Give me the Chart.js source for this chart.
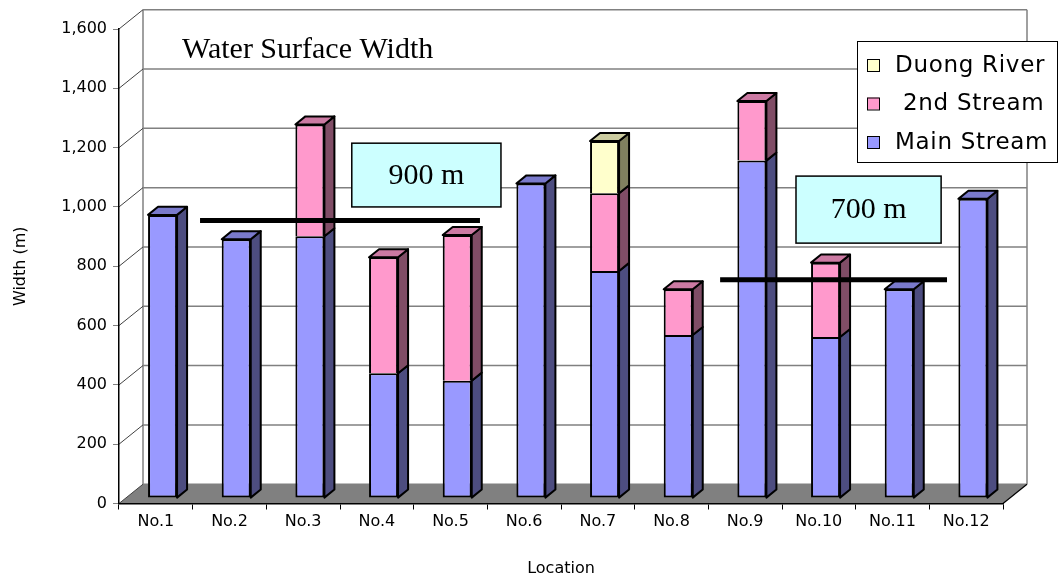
<!DOCTYPE html>
<html>
<head>
<meta charset="utf-8">
<title>Water Surface Width</title>
<script src="https://cdn.jsdelivr.net/npm/chart.js@4.4.1/dist/chart.umd.min.js"></script>
<style>
  html, body { margin: 0; padding: 0; background: #ffffff; }
  canvas { display: block; }
</style>
</head>
<body>
<canvas id="chart" width="1060" height="582"></canvas>
<script>
// ---- data -------------------------------------------------------------
const locations = ['No.1', 'No.2', 'No.3', 'No.4', 'No.5', 'No.6',
                   'No.7', 'No.8', 'No.9', 'No.10', 'No.11', 'No.12'];
const mainStream   = [955, 873, 883, 421, 396, 1061, 766, 550, 1138, 543, 704, 1009];
const secondStream = [null, null, 377, 391, 491, null, 262, 154, 201, 251, null, null];
const duongRiver   = [null, null, null, null, null, null, 176, null, null, null, null, null];
const seriesNames  = ['Main Stream', ' 2nd Stream', 'Duong River'];
const yTickValues  = [0, 200, 400, 600, 800, 1000, 1200, 1400, 1600];
const referenceWidths = [900, 700];
const referenceLabels = ['900 m', '700 m'];

// ---- look -------------------------------------------------------------
const SANS  = '"DejaVu Sans", sans-serif';
const SERIF = '"Liberation Serif", "Times New Roman", serif';
const FRONT = ['#9999FF', '#FF99CC', '#FFFFCC'];
const SIDE  = ['#4D4D80', '#804D66', '#80805F'];
const TOP   = ['#7A7ACC', '#CC7AA3', '#CCCCA0'];

// depth of the 3-D box and where the columns sit inside it
const DEPTH = { dx: 24, dy: 19.3 };
const BAR_FRONT = 0.28;   // fraction of depth at the column's front face
const BAR_DEPTH = 0.417;  // fraction of depth taken by a column

// reference lines: [from, to] in category units, drawn near the back wall
const refSpans = [[0.6, 4.4], [7.66, 10.74]];
const REF_DEPTH = 0.84;
// label boxes: [left, right] in category units, [top, bottom] in axis units
const refBoxes = [
  { x: [2.66, 4.685], v: [1215, 1000] },
  { x: [8.69, 10.66], v: [1104, 878] }
];

function seg(ctx, x1, y1, x2, y2) {
  ctx.beginPath(); ctx.moveTo(x1, y1); ctx.lineTo(x2, y2); ctx.stroke();
}
function quad(ctx, pts, fill) {
  ctx.beginPath();
  ctx.moveTo(pts[0][0], pts[0][1]);
  for (let i = 1; i < pts.length; i++) ctx.lineTo(pts[i][0], pts[i][1]);
  ctx.closePath();
  if (fill) { ctx.fillStyle = fill; ctx.fill(); }
  ctx.stroke();
}

const box3d = {
  id: 'box3d',
  beforeDraw(chart) {
    const { ctx, chartArea: a, scales: { y } } = chart;
    const dx = DEPTH.dx, dy = DEPTH.dy;
    ctx.save();
    // floor
    ctx.fillStyle = '#808080';
    ctx.beginPath();
    ctx.moveTo(a.left, a.bottom);
    ctx.lineTo(a.right, a.bottom);
    ctx.lineTo(a.right + dx, a.bottom - dy);
    ctx.lineTo(a.left + dx, a.bottom - dy);
    ctx.closePath();
    ctx.fill();
    // back wall grid
    ctx.strokeStyle = '#808080';
    ctx.lineWidth = 1.5;
    yTickValues.forEach(v => {
      const py = y.getPixelForValue(v) - dy;
      seg(ctx, a.left + dx, py, a.right + dx, py);
    });
    seg(ctx, a.left + dx, a.top - dy, a.left + dx, a.bottom - dy);
    seg(ctx, a.right + dx, a.top - dy, a.right + dx, a.bottom - dy);
    // side wall grid
    ctx.strokeStyle = '#404040';
    ctx.lineWidth = 1;
    yTickValues.forEach(v => {
      const py = y.getPixelForValue(v);
      seg(ctx, a.left, py, a.left + dx, py - dy);
    });
    // right edge of the floor
    ctx.strokeStyle = '#000';
    ctx.lineWidth = 1.2;
    seg(ctx, a.right, a.bottom, a.right + dx, a.bottom - dy);
    ctx.restore();
  },
  beforeDatasetsDraw(chart) {
    const ctx = chart.ctx;
    ctx.save();
    ctx.translate(DEPTH.dx * BAR_FRONT, -DEPTH.dy * BAR_FRONT);
  },
  afterDatasetsDraw(chart) {
    const ctx = chart.ctx;
    const bx = DEPTH.dx * BAR_DEPTH, by = DEPTH.dy * BAR_DEPTH;
    ctx.strokeStyle = '#000';
    ctx.lineWidth = 2;
    ctx.lineJoin = 'round';
    const n = chart.data.labels.length;
    for (let j = 0; j < n; j++) {
      let topEl = null, topIdx = -1;
      chart.data.datasets.forEach((ds, i) => {
        const v = ds.data[j];
        if (v === null || v === undefined) return;
        const el = chart.getDatasetMeta(i).data[j];
        const { x, y, base, width } = el.getProps(['x', 'y', 'base', 'width'], true);
        const l = x - width / 2, r = x + width / 2;
        const t = Math.min(y, base), b = Math.max(y, base);
        quad(ctx, [[r, t], [r + bx, t - by], [r + bx, b - by], [r, b]], SIDE[i]);
        if (!topEl || t < topEl.t) { topEl = { l, r, t }; topIdx = i; }
      });
      if (topEl) {
        const { l, r, t } = topEl;
        quad(ctx, [[l, t], [r, t], [r + bx, t - by], [l + bx, t - by]], TOP[topIdx]);
      }
    }
    ctx.restore();
  },
  afterDraw(chart) {
    const { ctx, chartArea: a, scales: { x, y } } = chart;
    const catW = (a.right - a.left) / chart.data.labels.length;
    const px = u => x.getPixelForValue(0) + u * catW;
    ctx.save();
    // reference widths
    ctx.strokeStyle = '#000';
    ctx.lineWidth = 5;
    referenceWidths.forEach((w, i) => {
      const py = y.getPixelForValue(w) - DEPTH.dy * REF_DEPTH;
      seg(ctx, px(refSpans[i][0]), py, px(refSpans[i][1]), py);
    });
    // label boxes
    refBoxes.forEach((bxs, i) => {
      const l = px(bxs.x[0]), r = px(bxs.x[1]);
      const t = y.getPixelForValue(bxs.v[0]), b = y.getPixelForValue(bxs.v[1]);
      ctx.fillStyle = '#CCFFFF';
      ctx.fillRect(l, t, r - l, b - t);
      ctx.lineWidth = 1.5;
      ctx.strokeRect(l, t, r - l, b - t);
      ctx.fillStyle = '#000';
      ctx.font = '30px ' + SERIF;
      ctx.textAlign = 'center';
      ctx.textBaseline = 'middle';
      ctx.fillText(referenceLabels[i], (l + r) / 2, (t + b) / 2 + 1);
    });
    // title inside the plot
    ctx.font = '30px ' + SERIF;
    ctx.textAlign = 'left';
    ctx.textBaseline = 'alphabetic';
    ctx.fillStyle = '#000';
    ctx.fillText('Water Surface Width', a.left + 63, a.top + 29);
    // legend, top series first
    const L = { left: 857, top: 41, width: 200, height: 121 };
    ctx.fillStyle = '#fff';
    ctx.fillRect(L.left, L.top, L.width, L.height);
    ctx.lineWidth = 1;
    ctx.strokeStyle = '#000';
    ctx.strokeRect(L.left + 0.5, L.top + 0.5, L.width, L.height);
    const order = [2, 1, 0];
    ctx.font = '23px ' + SANS;
    ctx.letterSpacing = '0.7px';
    ctx.textBaseline = 'middle';
    order.forEach((i, k) => {
      const cy = L.top + 24 + k * 38.5;
      ctx.fillStyle = FRONT[i];
      ctx.fillRect(L.left + 10, cy - 6, 12, 12);
      ctx.strokeRect(L.left + 10.5, cy - 5.5, 12, 12);
      ctx.fillStyle = '#000';
      ctx.fillText(chart.data.datasets[i].label, L.left + 38, cy + 1);
    });
    ctx.restore();
  }
};

Chart.defaults.font.family = SANS;
Chart.defaults.font.size = 16;
Chart.defaults.color = '#000';

// upper segments skip their bottom edge so stack joins stay a single line
const barStyle = i => ({
  backgroundColor: FRONT[i],
  borderColor: '#000',
  borderWidth: 2,
  borderSkipped: i === 0 ? false : 'start',
  barPercentage: 0.394,
  categoryPercentage: 1.0
});

new Chart(document.getElementById('chart'), {
  type: 'bar',
  data: {
    labels: locations,
    datasets: [
      { label: seriesNames[0], data: mainStream, ...barStyle(0) },
      { label: seriesNames[1], data: secondStream, ...barStyle(1) },
      { label: seriesNames[2], data: duongRiver, ...barStyle(2) }
    ]
  },
  options: {
    responsive: false,
    devicePixelRatio: 1,
    animation: false,
    events: [],
    layout: { padding: { top: 29, right: 57, bottom: 0, left: 0 } },
    plugins: { legend: { display: false }, tooltip: { enabled: false } },
    scales: {
      x: {
        stacked: true,
        offset: true,
        grid: { display: true, offset: true, drawOnChartArea: false, drawTicks: true, tickLength: 6, color: '#000', lineWidth: 1 },
        border: { display: true, color: '#000', width: 1.5 },
        ticks: { padding: 3, font: { size: 16 }, maxRotation: 0, autoSkip: false },
        title: { display: true, text: 'Location', font: { size: 16 }, padding: { top: 4, bottom: 4 } },
        afterFit: s => { s.height = 78.5; }
      },
      y: {
        stacked: true,
        min: 0,
        max: 1600,
        afterBuildTicks: s => { s.ticks = yTickValues.map(v => ({ value: v })); },
        grid: { display: true, drawOnChartArea: false, drawTicks: true, tickLength: 6, color: '#808080', lineWidth: 1 },
        border: { display: true, color: '#000', width: 1.5 },
        ticks: { padding: 6, font: { size: 16 }, callback: v => Number(v).toLocaleString('en-US') },
        title: { display: true, text: 'Width (m)', font: { size: 16 }, padding: { top: 11, bottom: 0 } },
        afterFit: s => { s.width = 119; }
      }
    }
  },
  plugins: [box3d]
});
</script>
</body>
</html>
